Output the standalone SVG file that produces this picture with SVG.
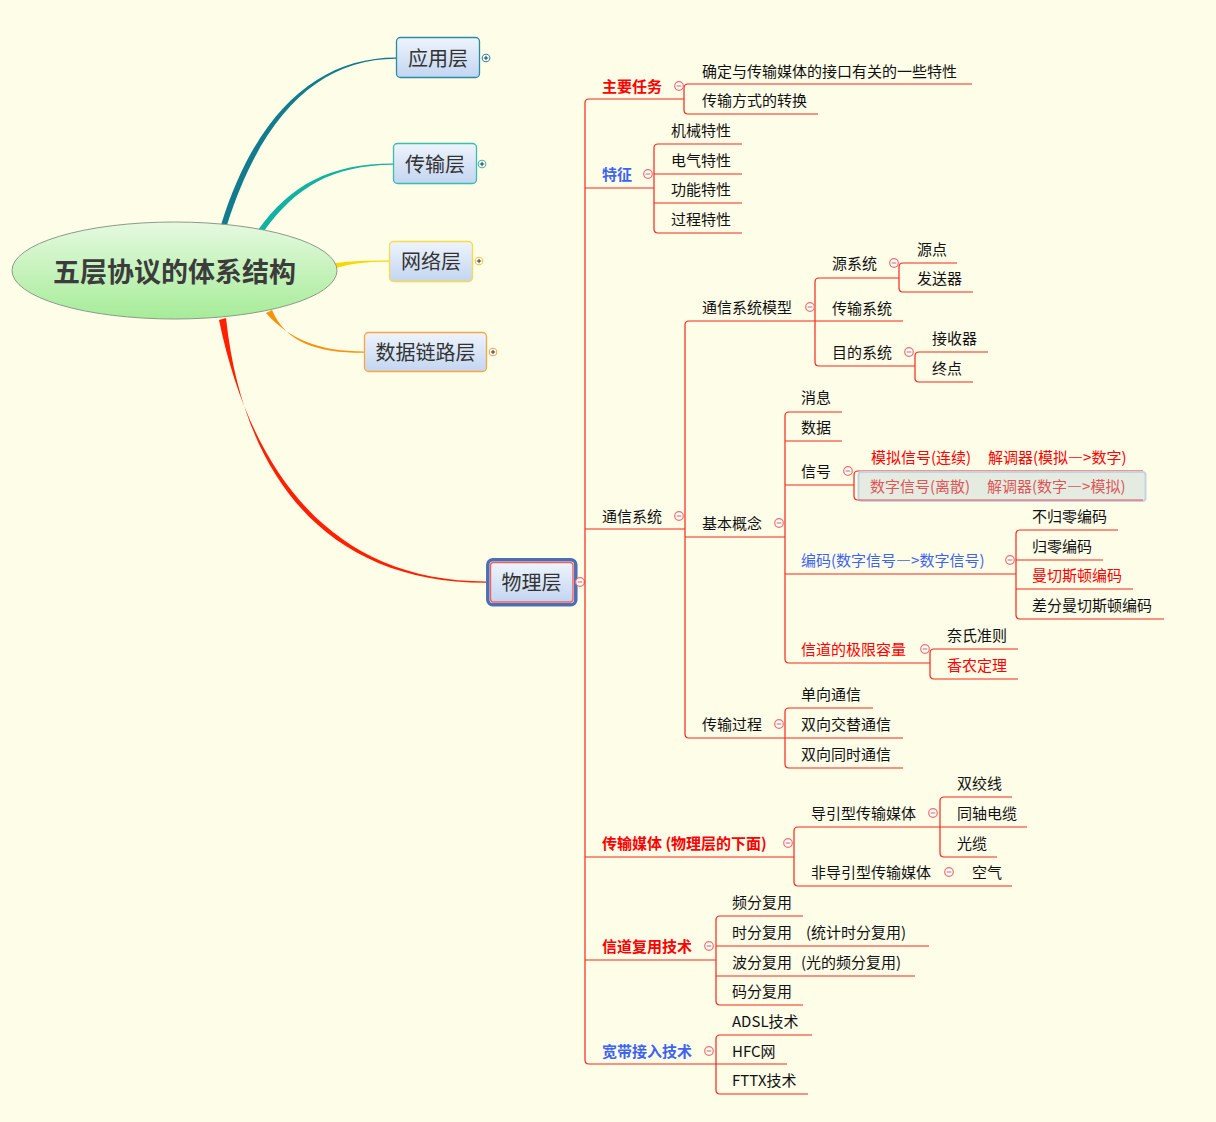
<svg xmlns="http://www.w3.org/2000/svg" xmlns:xlink="http://www.w3.org/1999/xlink" width="1216" height="1122" viewBox="0 0 1216 1122">
<style>
.t{font-family:"Noto Sans CJK SC","Microsoft YaHei",sans-serif;font-size:15px;fill:#111}
.b{font-weight:bold}
.r{fill:#FF0000}
.u{fill:#3C64F0}
.ly{font-family:"Noto Sans CJK SC",sans-serif;font-size:20px;fill:#333;text-anchor:middle}
.ln{stroke:#F5281A;stroke-width:1.2;fill:none}
.fw{font-feature-settings:"fwid"}
</style>
<defs>
<linearGradient id="gBox" x1="0" y1="0" x2="0" y2="1"><stop offset="0" stop-color="#EEF4FC"/><stop offset="1" stop-color="#C3D5F1"/></linearGradient>
<linearGradient id="gRoot" x1="0" y1="0" x2="0" y2="1"><stop offset="0" stop-color="#E6F9E0"/><stop offset="1" stop-color="#A6EC98"/></linearGradient>
<g id="m"><circle r="4.3" fill="#FFF8F4" stroke="#F07070" stroke-width="1.2"/><line x1="-2.3" y1="0" x2="2.3" y2="0" stroke="#888" stroke-width="1"/></g>
<g id="p"><circle r="3.8" fill="#FFF" stroke="currentColor" stroke-width="1.1"/><path d="M-2.2,0H2.2M0,-2.2V2.2" stroke="#333" stroke-width="1"/></g>
</defs>
<rect width="1216" height="1122" fill="#FEFDE8"/>

<g id="branches">
<path d="M221,225 C256,112 318,57.4 396,57.4 L396,58.8 C320,58.8 262,114 227,225 Z" fill="#127C8E"/>
<path d="M258,230 C290,185 330,163.4 393,163.4 L393,164.8 C332,165 295,188 264,231 Z" fill="#12B1A1"/>
<path d="M335,263 C350,261 365,260.4 389,260.4 L389,261.8 C365,261.8 352,263.5 336,268 Z" fill="#F8D800"/>
<path d="M266,313 C290,340 320,351.4 364,351.4 L364,352.8 C318,353 286,343 272,310 Z" fill="#F5940A"/>
<path d="M219,320 C250,470 330,581.4 486,581.4 L486,582.8 C325,583 243,475 226,318 Z" fill="#FF2000"/>
</g>

<g id="root">
<ellipse cx="174.5" cy="270.5" rx="162.5" ry="48.5" fill="url(#gRoot)" stroke="#8C9A8A" stroke-width="1"/>
<text x="174.5" y="282" text-anchor="middle" style="font-family:'Noto Sans CJK SC',sans-serif;font-size:27px;font-weight:bold;fill:#3C3C3C">五层协议的体系结构</text>
</g>

<g id="n-app">
<rect x="396.5" y="37.5" width="83" height="40" rx="4" fill="url(#gBox)" stroke="#2A8CA5" stroke-width="1.3"/>
<text class="ly" x="438" y="65.5">应用层</text>
<use href="#p" x="486" y="58" color="#2A8CA5"/>
</g>
<g id="n-trans">
<rect x="393.5" y="143.5" width="83" height="40" rx="4" fill="url(#gBox)" stroke="#38BDB0" stroke-width="1.3"/>
<text class="ly" x="435" y="171.5">传输层</text>
<use href="#p" x="482" y="164" color="#38BDB0"/>
</g>
<g id="n-net">
<rect x="389.5" y="241.5" width="83" height="40" rx="4" fill="url(#gBox)" stroke="#F7DC4A" stroke-width="1.3"/>
<text class="ly" x="431" y="269">网络层</text>
<use href="#p" x="479" y="261" color="#F2C830"/>
</g>
<g id="n-link">
<rect x="364.5" y="332.5" width="122" height="39" rx="4" fill="url(#gBox)" stroke="#F6A643" stroke-width="1.3"/>
<text class="ly" x="425.5" y="360">数据链路层</text>
<use href="#p" x="493" y="352" color="#F6A643"/>
</g>
<g id="n-phy">
<rect x="487.8" y="559.8" width="88" height="45" rx="5" fill="none" stroke="#4A6FB5" stroke-width="3.5"/>
<rect x="490.5" y="562.5" width="82.5" height="39.5" rx="3" fill="url(#gBox)" stroke="#F06060" stroke-width="1.4"/>
<text class="ly" x="531.5" y="589.5">物理层</text>
<use href="#m" x="580" y="582"/>
</g>

<g id="connectors" class="ln">
<path d="M589,99 Q585,99 585,103 V1060 Q585,1064 589,1064"/>
<path d="M589,99 H684 M585,188 H654 M585,529 H685 M585,857 H794 M585,960 H716 M589,1064 H787"/>
<path d="M688,84 Q684,84 684,88 V110 Q684,114 688,114 M688,84 H972 M688,114 H818"/>
<path d="M658,144 Q654,144 654,148 V229 Q654,233 658,233 M658,144 H742 M654,174 H742 M654,203 H742 M658,233 H742"/>
<path d="M689,321 Q685,321 685,325 V734 Q685,738 689,738 M689,321 H903 M685,537 H785 M689,738 H903"/>
<path d="M819,278 Q815,278 815,282 V362 Q815,366 819,366 M819,278 H899 M819,366 H915"/>
<path d="M903,263 Q899,263 899,267 V288 Q899,292 903,292 M903,263 H957 M903,292 H973"/>
<path d="M919,352 Q915,352 915,356 V378 Q915,382 919,382 M919,352 H988 M919,382 H973"/>
<path d="M789,412 Q785,412 785,416 V659 Q785,663 789,663 M789,412 H842 M785,441 H842 M785,485 H854 M785,574 H1016 M789,663 H930"/>
<path d="M858,471 Q854,471 854,475 V496 Q854,500 858,500 M858,471 H1143"/>
<path d="M1020,530 Q1016,530 1016,534 V615 Q1016,619 1020,619 M1020,530 H1118 M1016,560 H1103 M1016,589 H1133 M1020,619 H1164"/>
<path d="M934,649 Q930,649 930,653 V675 Q930,679 934,679 M934,649 H1018 M934,679 H1018"/>
<path d="M789,708 Q785,708 785,712 V764 Q785,768 789,768 M789,708 H873 M789,768 H903"/>
<path d="M798,827 Q794,827 794,831 V882 Q794,886 798,886 M798,827 H1027 M798,886 H1012"/>
<path d="M944,797 Q940,797 940,801 V853 Q940,857 944,857 M944,797 H1012 M944,857 H997"/>
<path d="M720,916 Q716,916 716,920 V1001 Q716,1005 720,1005 M720,916 H803 M716,946 H929 M716,976 H915 M720,1005 H803"/>
<path d="M720,1035 Q716,1035 716,1039 V1090 Q716,1094 720,1094 M720,1035 H812 M720,1094 H808"/>
</g>

<g id="n-task"><text class="t b r" x="602" y="91.5">主要任务</text><use href="#m" x="679" y="86"/></g>
<g id="n-task1"><text class="t" x="702" y="76.5">确定与传输媒体的接口有关的一些特性</text></g>
<g id="n-task2"><text class="t" x="702" y="105.5">传输方式的转换</text></g>

<g id="n-feat"><text class="t b u" x="602" y="179.5">特征</text><use href="#m" x="648" y="174"/></g>
<g id="n-feat1"><text class="t" x="671" y="135.5">机械特性</text></g>
<g id="n-feat2"><text class="t" x="671" y="165.5">电气特性</text></g>
<g id="n-feat3"><text class="t" x="671" y="194.5">功能特性</text></g>
<g id="n-feat4"><text class="t" x="671" y="224.5">过程特性</text></g>

<g id="n-comm"><text class="t" x="602" y="521.5">通信系统</text><use href="#m" x="679" y="516"/></g>
<g id="n-model"><text class="t" x="702" y="312.5">通信系统模型</text><use href="#m" x="810" y="307"/></g>
<g id="n-src"><text class="t" x="832" y="268.5">源系统</text><use href="#m" x="894" y="263"/></g>
<g id="n-src1"><text class="t" x="917" y="254.5">源点</text></g>
<g id="n-src2"><text class="t" x="917" y="283.5">发送器</text></g>
<g id="n-chan"><text class="t" x="832" y="313.5">传输系统</text></g>
<g id="n-dst"><text class="t" x="832" y="357.5">目的系统</text><use href="#m" x="909" y="352"/></g>
<g id="n-dst1"><text class="t" x="932" y="343.5">接收器</text></g>
<g id="n-dst2"><text class="t" x="932" y="373.5">终点</text></g>

<g id="n-basic"><text class="t" x="702" y="528.5">基本概念</text><use href="#m" x="779" y="523"/></g>
<g id="n-msg"><text class="t" x="801" y="402.5">消息</text></g>
<g id="n-data"><text class="t" x="801" y="432.5">数据</text></g>
<g id="n-sig"><text class="t" x="801" y="476.5">信号</text><use href="#m" x="848" y="471"/></g>
<g id="n-sig1"><text class="t r" x="871" y="462.5">模拟信号(连续)</text><text class="t r" x="988" y="462.5">解调器(模拟<tspan class="fw">—</tspan>&gt;数字)</text></g>
<g id="n-sig2">
<rect x="858.5" y="472" width="287" height="29" rx="3" fill="#E4ECE2" stroke="#C3D4E6" stroke-width="2"/>
<line x1="858" y1="500" x2="1143" y2="500" stroke="#F5281A" stroke-width="1.2" opacity="0.8"/>
<text class="t" style="fill:#E05555" x="870" y="491.5">数字信号(离散)</text><text class="t" style="fill:#E05555" x="987" y="491.5">解调器(数字<tspan class="fw">—</tspan>&gt;模拟)</text>
</g>
<g id="n-code"><text class="t u" x="801" y="565.5">编码(数字信号<tspan class="fw">—</tspan>&gt;数字信号)</text><use href="#m" x="1010" y="560"/></g>
<g id="n-code1"><text class="t" x="1032" y="521.5">不归零编码</text></g>
<g id="n-code2"><text class="t" x="1032" y="551.5">归零编码</text></g>
<g id="n-code3"><text class="t r" x="1032" y="580.5">曼切斯顿编码</text></g>
<g id="n-code4"><text class="t" x="1032" y="610.5">差分曼切斯顿编码</text></g>
<g id="n-cap"><text class="t r" x="801" y="654.5">信道的极限容量</text><use href="#m" x="925" y="649"/></g>
<g id="n-cap1"><text class="t" x="947" y="640.5">奈氏准则</text></g>
<g id="n-cap2"><text class="t r" x="947" y="670.5">香农定理</text></g>

<g id="n-proc"><text class="t" x="702" y="729.5">传输过程</text><use href="#m" x="779" y="724"/></g>
<g id="n-proc1"><text class="t" x="801" y="699.5">单向通信</text></g>
<g id="n-proc2"><text class="t" x="801" y="729.5">双向交替通信</text></g>
<g id="n-proc3"><text class="t" x="801" y="759.5">双向同时通信</text></g>

<g id="n-media"><text class="t b r" x="602" y="848.5">传输媒体 (物理层的下面)</text><use href="#m" x="788" y="843"/></g>
<g id="n-guided"><text class="t" x="811" y="818.5">导引型传输媒体</text><use href="#m" x="933" y="813"/></g>
<g id="n-g1"><text class="t" x="957" y="788.5">双绞线</text></g>
<g id="n-g2"><text class="t" x="957" y="818.5">同轴电缆</text></g>
<g id="n-g3"><text class="t" x="957" y="848.5">光缆</text></g>
<g id="n-unguided"><text class="t" x="811" y="877.5">非导引型传输媒体</text><use href="#m" x="949" y="872"/></g>
<g id="n-air"><text class="t" x="972" y="877.5">空气</text></g>

<g id="n-mux"><text class="t b r" x="602" y="951.5">信道复用技术</text><use href="#m" x="709" y="946"/></g>
<g id="n-mux1"><text class="t" x="732" y="907.5">频分复用</text></g>
<g id="n-mux2"><text class="t" x="732" y="937.5">时分复用</text><text class="t" x="806" y="937.5">(统计时分复用)</text></g>
<g id="n-mux3"><text class="t" x="732" y="967.5">波分复用</text><text class="t" x="801" y="967.5">(光的频分复用)</text></g>
<g id="n-mux4"><text class="t" x="732" y="996.5">码分复用</text></g>

<g id="n-bb"><text class="t b u" x="602" y="1056.5">宽带接入技术</text><use href="#m" x="709" y="1051"/></g>
<g id="n-bb1"><text class="t" x="732" y="1026.5">ADSL技术</text></g>
<g id="n-bb2"><text class="t" x="732" y="1056.5">HFC网</text></g>
<g id="n-bb3"><text class="t" x="732" y="1085.5">FTTX技术</text></g>
</svg>
